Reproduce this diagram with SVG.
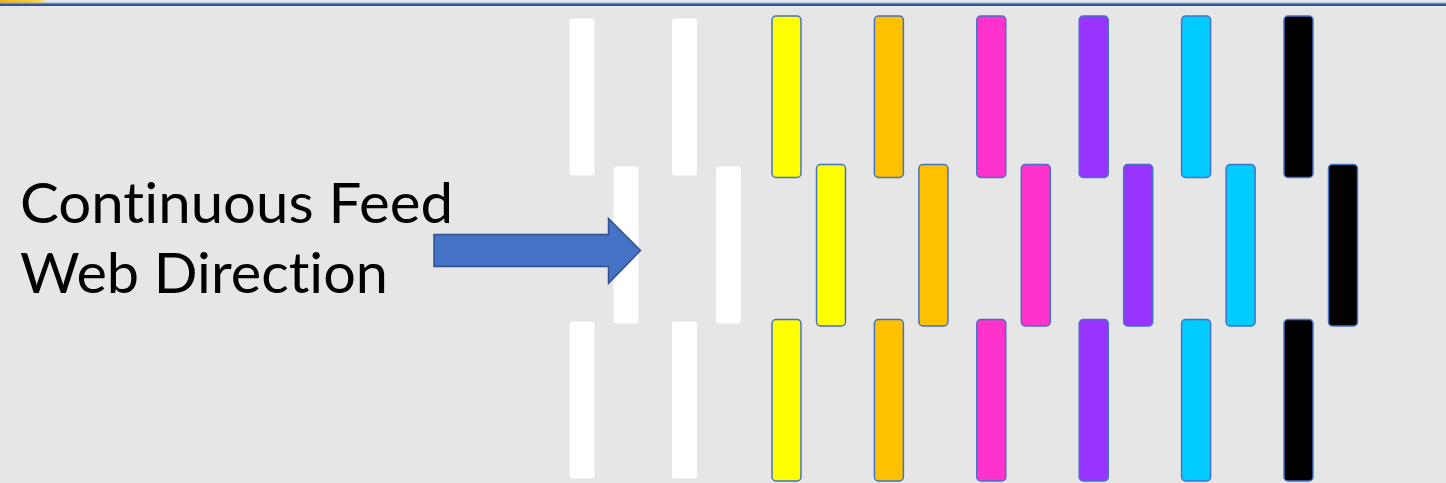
<svg xmlns="http://www.w3.org/2000/svg" width="1446" height="483" viewBox="0 0 1446 483">
<defs>
<style>
.w{fill:#ffffff}
.c{stroke:#4472c4;stroke-width:1.5}
.lbl{font-family:Lato,"Open Sans",sans-serif;font-size:57px;fill:#000000;font-variant-ligatures:none;font-feature-settings:"liga" 0,"dlig" 0}
</style>
<linearGradient id="yg" x1="0" y1="0" x2="1" y2="0">
<stop offset="0" stop-color="#f5b400"/>
<stop offset="0.8" stop-color="#ffd030"/>
<stop offset="1" stop-color="#ffe890"/>
</linearGradient>
</defs>
<rect x="0" y="0" width="1446" height="483" fill="#e7e6e6"/>
<rect x="0" y="0" width="46" height="3" fill="url(#yg)"/>
<rect x="0" y="2.5" width="1446" height="1" fill="#8faadc"/>
<rect x="0" y="3.5" width="1446" height="2.5" fill="#2f5597"/>
<g id="label">
<text class="lbl" x="20" y="223" textLength="433" lengthAdjust="spacingAndGlyphs">Continuous Feed</text>
<text class="lbl" x="20" y="293" textLength="368" lengthAdjust="spacingAndGlyphs">Web Direction</text>
</g>
<g id="white-bars">
<rect class="w" x="569.5" y="18.5" width="25" height="157" rx="3"/>
<rect class="w" x="672" y="18.5" width="25" height="157" rx="3"/>
<rect class="w" x="613.5" y="166.5" width="25" height="157" rx="3"/>
<rect class="w" x="716" y="166.5" width="25" height="157" rx="3"/>
<rect class="w" x="569.5" y="321.5" width="25" height="157" rx="3"/>
<rect class="w" x="672" y="321.5" width="25" height="157" rx="3"/>
</g>
<g id="yellow" fill="#ffff00">
<rect class="c" x="772" y="16" width="29" height="161.5" rx="4"/>
<rect class="c" x="816.5" y="164.5" width="29" height="161.5" rx="4"/>
<rect class="c" x="772" y="319.5" width="29" height="161.5" rx="4"/>
</g>
<g id="orange" fill="#ffc000">
<rect class="c" x="874.4" y="16" width="29" height="161.5" rx="4"/>
<rect class="c" x="918.9" y="164.5" width="29" height="161.5" rx="4"/>
<rect class="c" x="874.4" y="319.5" width="29" height="161.5" rx="4"/>
</g>
<g id="magenta" fill="#ff33cc">
<rect class="c" x="976.8" y="16" width="29" height="161.5" rx="4"/>
<rect class="c" x="1021.3" y="164.5" width="29" height="161.5" rx="4"/>
<rect class="c" x="976.8" y="319.5" width="29" height="161.5" rx="4"/>
</g>
<g id="purple" fill="#9933ff">
<rect class="c" x="1079.2" y="16" width="29" height="161.5" rx="4"/>
<rect class="c" x="1123.7" y="164.5" width="29" height="161.5" rx="4"/>
<rect class="c" x="1079.2" y="319.5" width="29" height="161.5" rx="4"/>
</g>
<g id="cyan" fill="#00ccff">
<rect class="c" x="1181.6" y="16" width="29" height="161.5" rx="4"/>
<rect class="c" x="1226.1" y="164.5" width="29" height="161.5" rx="4"/>
<rect class="c" x="1181.6" y="319.5" width="29" height="161.5" rx="4"/>
</g>
<g id="black" fill="#000000">
<rect class="c" x="1284" y="16" width="29" height="161.5" rx="4"/>
<rect class="c" x="1328.5" y="164.5" width="29" height="161.5" rx="4"/>
<rect class="c" x="1284" y="319.5" width="29" height="161.5" rx="4"/>
</g>
<g id="connectors">
<path d="M434,234.5 H608.5 V218.5 L640.5,250.5 L608.5,283.5 V266.5 H434 Z" fill="#4472c4" stroke="#2f528f" stroke-width="1.5" stroke-linejoin="miter"/>
</g>
</svg>
